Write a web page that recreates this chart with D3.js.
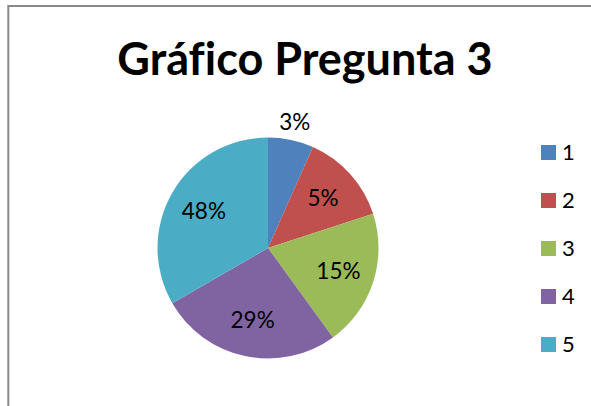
<!DOCTYPE html>
<html>
<head>
<meta charset="utf-8">
<script src="https://cdn.jsdelivr.net/npm/d3@7"></script>
<style>
  body { margin: 0; background: #fff; }
  svg { display: block; font-family: Lato, "Liberation Sans", sans-serif; font-variant-ligatures: none; }
</style>
</head>
<body>
<svg id="chart"></svg>
<script>
var width = 591,
    height = 406;

// slice sizes as drawn, and the percentage texts printed on them
var categories = ["1", "2", "3", "4", "5"];
var values = [1, 2, 3, 4, 5];
var labels = ["3%", "5%", "15%", "29%", "48%"];
var colors = ["#4F81BD", "#C0504D", "#9BBB59", "#8064A2", "#4BACC6"];

var svg = d3.select("#chart")
    .attr("width", width)
    .attr("height", height);

// chart frame (only top and left edges visible)
svg.append("path")
    .attr("d", "M8.3,406 L8.3,6 L591,6")
    .attr("fill", "none")
    .attr("stroke", "#888")
    .attr("stroke-width", 2);

svg.append("text")
    .attr("x", 305)
    .attr("y", 75)
    .attr("text-anchor", "middle")
    .attr("font-size", 45)
    .attr("font-weight", "bold")
    .attr("fill", "#000")
    .text("Gráfico Pregunta 3");

var cx = 268, cy = 248, r = 110.5;

var color = d3.scaleOrdinal().domain(categories).range(colors);

var pie = d3.pie().sort(null).value(d => d.v);
var data = categories.map((c, i) => ({ c: c, v: values[i], label: labels[i] }));
var arcs = pie(data);

var arc = d3.arc().innerRadius(0).outerRadius(r);
var labelArc = d3.arc().innerRadius(r * 0.67).outerRadius(r * 0.67);

var g = svg.append("g").attr("transform", `translate(${cx},${cy})`);

g.selectAll("path")
    .data(arcs)
    .join("path")
    .attr("d", arc)
    .attr("fill", d => color(d.data.c));

g.selectAll("text")
    .data(arcs)
    .join("text")
    .attr("transform", (d, i) => {
        var p;
        if (i === 0) {
            // small slice: label sits outside above the pie
            var a = (d.startAngle + d.endAngle) / 2;
            var rr = r + 18;
            p = [Math.sin(a) * rr, -Math.cos(a) * rr];
        } else {
            p = labelArc.centroid(d);
        }
        return `translate(${p[0]},${p[1]})`;
    })
    .attr("text-anchor", "middle")
    .attr("dy", "0.35em")
    .attr("font-size", 22.5)
    .attr("fill", "#000")
    .text(d => d.data.label);

var legend = svg.append("g")
    .selectAll("g")
    .data(categories)
    .join("g")
    .attr("transform", (d, i) => `translate(541,${152 + i * 48})`);

legend.append("rect")
    .attr("x", 0)
    .attr("y", -7)
    .attr("width", 15)
    .attr("height", 15)
    .attr("fill", d => color(d));

legend.append("text")
    .attr("x", 21)
    .attr("y", 0)
    .attr("dy", "0.35em")
    .attr("font-size", 22)
    .attr("fill", "#000")
    .text(d => d);
</script>
</body>
</html>
